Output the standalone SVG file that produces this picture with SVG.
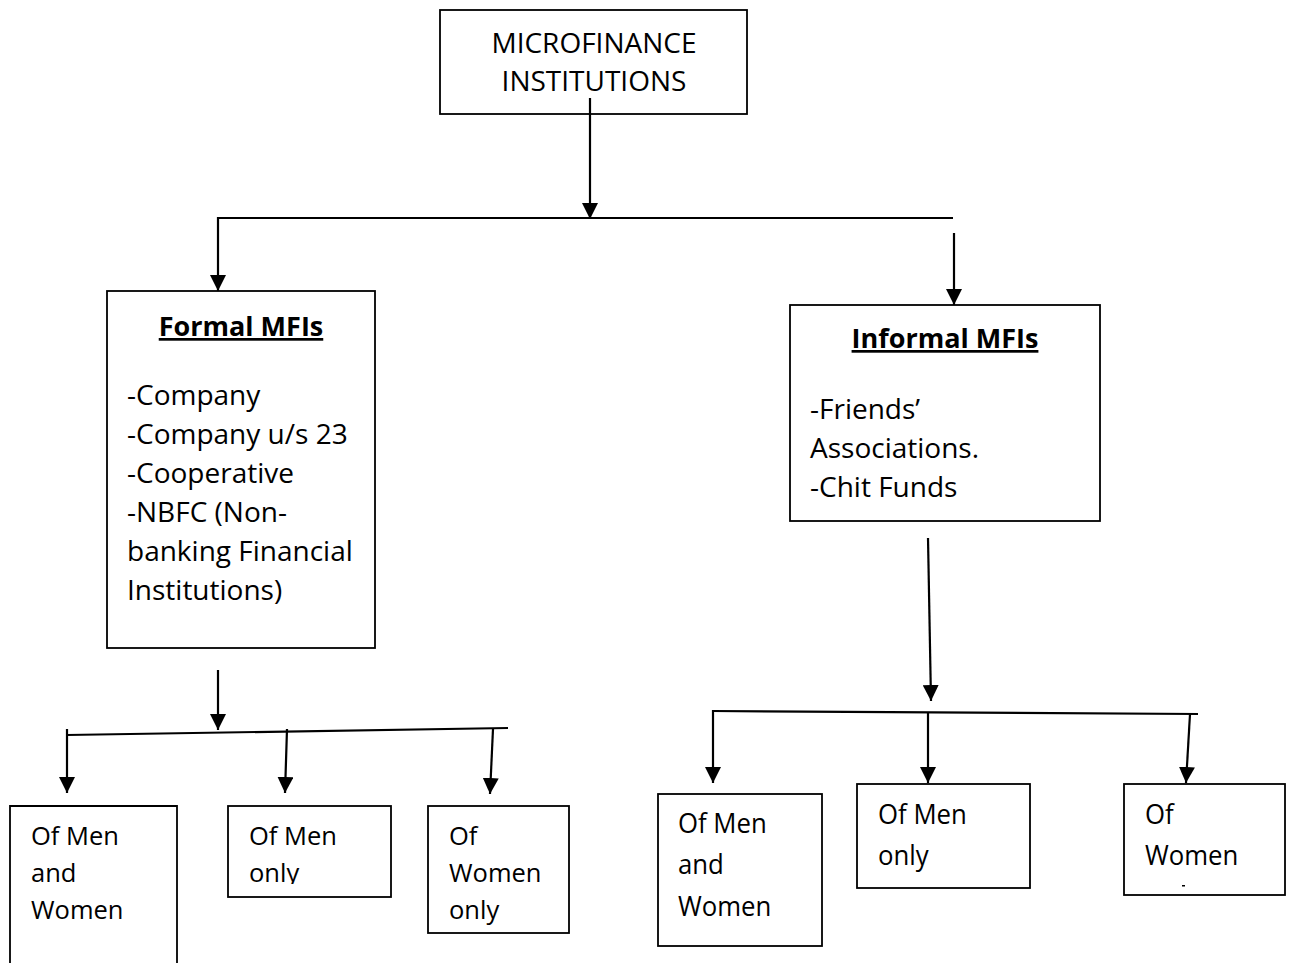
<svg xmlns="http://www.w3.org/2000/svg" width="1292" height="963" viewBox="0 0 1292 963">
<style>
  .box { fill: #fff; stroke: #000; stroke-width: 1.8; }
  .t { font-family: "Open Sans", "Liberation Sans", sans-serif; font-size: 28px; fill: #000; }
  .s { font-size: 25.5px; }
  .title { font-weight: bold; text-decoration: underline; font-size: 27px; }
  .c { stroke: #000; stroke-width: 2.2; fill: none; }
  .arr { marker-end: url(#ah); }
</style>
<defs>
  <marker id="ah" viewBox="0 0 16 16" refX="16" refY="8" markerWidth="16" markerHeight="16" orient="auto" markerUnits="userSpaceOnUse">
    <path d="M0,0 L16,8 L0,16 z" fill="#000"/>
  </marker>
  <clipPath id="clipMenOnlyL"><rect x="228" y="806" width="164" height="78"/></clipPath>
</defs>
<rect width="1292" height="963" fill="#fff"/>

<g id="node-mfi">
  <rect class="box" x="440" y="10" width="307" height="104"/>
  <text class="t" x="594" y="53" text-anchor="middle">MICROFINANCE</text>
  <text class="t" x="594" y="91" text-anchor="middle">INSTITUTIONS</text>
</g>

<g id="node-formal">
  <rect class="box" x="107" y="291" width="268" height="357"/>
  <text class="t title" x="241" y="336" text-anchor="middle">Formal MFIs</text>
  <text class="t" x="127" y="405">-Company</text>
  <text class="t" x="127" y="444">-Company u/s 23</text>
  <text class="t" x="127" y="483">-Cooperative</text>
  <text class="t" x="127" y="522">-NBFC (Non-</text>
  <text class="t" x="127" y="561">banking Financial</text>
  <text class="t" x="127" y="600">Institutions)</text>
</g>

<g id="node-informal">
  <rect class="box" x="790" y="305" width="310" height="216"/>
  <text class="t title" x="945" y="348" text-anchor="middle">Informal MFIs</text>
  <text class="t" x="810" y="419">-Friends’</text>
  <text class="t" x="810" y="458">Associations.</text>
  <text class="t" x="810" y="497">-Chit Funds</text>
</g>

<g id="node-f-menwomen">
  <path class="box" d="M10,964 L10,806 L177,806 L177,964"/>
  <text class="t s" x="31" y="845">Of Men</text>
  <text class="t s" x="31" y="882">and</text>
  <text class="t s" x="31" y="919">Women</text>
</g>

<g id="node-f-men">
  <rect class="box" x="228" y="806" width="163" height="91"/>
  <g clip-path="url(#clipMenOnlyL)">
    <text class="t s" x="249" y="845">Of Men</text>
    <text class="t s" x="249" y="882">only</text>
  </g>
</g>

<g id="node-f-women">
  <rect class="box" x="428" y="806" width="141" height="127"/>
  <text class="t s" x="449" y="845">Of</text>
  <text class="t s" x="449" y="882">Women</text>
  <text class="t s" x="449" y="919">only</text>
</g>

<g id="node-i-menwomen">
  <rect class="box" x="658" y="794" width="164" height="152"/>
  <g transform="translate(678 0) scale(0.92 1) translate(-678 0)">
    <text class="t" x="678" y="833">Of Men</text>
    <text class="t" x="678" y="874">and</text>
    <text class="t" x="678" y="916">Women</text>
  </g>
</g>

<g id="node-i-men">
  <rect class="box" x="857" y="784" width="173" height="104"/>
  <g transform="translate(878 0) scale(0.92 1) translate(-878 0)">
    <text class="t" x="878" y="824">Of Men</text>
    <text class="t" x="878" y="865">only</text>
  </g>
</g>

<g id="node-i-women">
  <rect class="box" x="1124" y="784" width="161" height="111"/>
  <g transform="translate(1145 0) scale(0.92 1) translate(-1145 0)">
    <text class="t" x="1145" y="824">Of</text>
    <text class="t" x="1145" y="865">Women</text>
  </g>
  <rect x="1182" y="885" width="3" height="1.5" fill="#000"/>
</g>

<g id="connectors">
  <line class="c arr" x1="590" y1="98" x2="590" y2="219"/>
  <line class="c" x1="218" y1="218" x2="953" y2="218"/>
  <line class="c arr" x1="218" y1="217" x2="218" y2="291"/>
  <line class="c arr" x1="954" y1="233" x2="954" y2="305"/>

  <line class="c arr" x1="218" y1="670" x2="218" y2="730"/>
  <line class="c" x1="67" y1="735" x2="508" y2="728"/>
  <line class="c arr" x1="67" y1="729" x2="67" y2="793"/>
  <line class="c arr" x1="287" y1="729" x2="285" y2="793"/>
  <line class="c arr" x1="493" y1="729" x2="490" y2="794"/>

  <line class="c arr" x1="928" y1="538" x2="931" y2="701"/>
  <line class="c" x1="712" y1="711" x2="1198" y2="714"/>
  <line class="c arr" x1="713" y1="710" x2="713" y2="783"/>
  <line class="c arr" x1="928" y1="712" x2="928" y2="783"/>
  <line class="c arr" x1="1190" y1="714" x2="1186" y2="783"/>
</g>
</svg>
